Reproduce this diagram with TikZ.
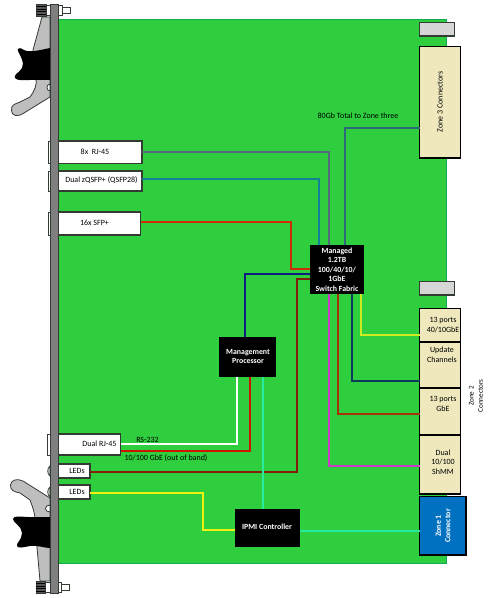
\documentclass[tikz,border=0pt]{standalone}
\usepackage{fontspec}
\setmainfont{Carlito}
\definecolor{boardgreen}{RGB}{46,206,62}
\definecolor{boardedge}{RGB}{16,170,80}
\definecolor{cream}{RGB}{238,232,188}
\definecolor{zoneblue}{RGB}{0,112,192}
\definecolor{lightgrey}{RGB}{214,214,214}
\definecolor{ejector}{RGB}{190,190,190}
\definecolor{panelgrey}{RGB}{127,127,127}
\definecolor{edgegrey}{RGB}{50,60,50}
\definecolor{slate}{RGB}{85,105,125}
\definecolor{tealw}{RGB}{20,130,150}
\definecolor{slateteal}{RGB}{45,105,120}
\definecolor{redw}{RGB}{205,45,5}
\definecolor{navyw}{RGB}{10,30,130}
\definecolor{darkred}{RGB}{130,30,10}
\definecolor{brightred}{RGB}{205,20,0}
\definecolor{mint}{RGB}{40,235,160}
\definecolor{yellowg}{RGB}{205,235,30}
\definecolor{yelloww}{RGB}{240,240,20}
\definecolor{navyteal}{RGB}{10,60,90}
\definecolor{brownw}{RGB}{165,50,10}
\definecolor{magentaw}{RGB}{205,60,200}
\tikzset{
  x=0.75pt,y=-0.75pt,
  anybox/.style={rectangle,inner sep=0pt,outer sep=0pt,font=\fontsize{6}{7.2}\selectfont,align=center},
  whitebox/.style={anybox,fill=white,draw=edgegrey,line width=0.8pt},
  blackbox/.style={anybox,fill=black,text=white},
  creambox/.style={anybox,fill=cream,draw=black,line width=0.8pt},
  greybox/.style={anybox,fill=lightgrey,draw=edgegrey,line width=0.9pt},
  bluebox/.style={anybox,fill=zoneblue,draw=black,line width=0.8pt},
  txt/.style={inner sep=0pt,outer sep=0pt,font=\fontsize{6}{7.2}\selectfont,align=center},
  boldtxt/.style={txt,text=white,font=\fontsize{5.9}{7.1}\selectfont\bfseries},
  wire/.style={line width=0.9pt},
  tab/.style={draw=edgegrey,fill=white,line width=0.5pt},
  hw/.style={draw=edgegrey,line width=0.6pt}
}
\newcommand{\pbox}[7]{\node[#1,minimum width={(#5-#3)*0.75pt},minimum height={(#6-#4)*0.75pt}] (#2) at ({(#3+#5)/2},{(#4+#6)/2}) {#7};}
\begin{document}
\begin{tikzpicture}
\useasboundingbox (0,0) rectangle (501,598);
% board
\pbox{anybox,fill=boardgreen,draw=boardedge,line width=0.5pt}{board}{50}{19}{446.5}{563}{}
% ejectors
\draw[hw,fill=ejector] (42,17) -- (50,17) -- (50,97) -- (24,113) .. controls (18,117) and (12,117) .. (11.5,110) .. controls (11,105) and (15,104) .. (20,102) -- (30,97) .. controls (35,90) and (37,85) .. (36,78) -- (33,50) -- cycle;
\draw[hw,fill=white] (50,84) .. controls (46,84) and (46,91) .. (50,91) -- cycle;
\fill[black] (50,48) .. controls (40,50) and (30,53) .. (24,50) .. controls (20,47) and (17,48) .. (18,51) .. controls (20,56) and (25,62) .. (22,68) .. controls (19,73) and (13,75) .. (15,78) .. controls (17,81) and (24,80) .. (30,80) -- (50,80) -- cycle;
\draw[hw,fill=ejector] (40,581) -- (50,581) -- (50,498) -- (23,481) .. controls (17,478) and (11,480) .. (10.5,485) .. controls (10,490) and (14,492) .. (20,493) -- (30,500) .. controls (33,508) and (36,516) .. (35,525) -- cycle;
\draw[hw,fill=white] (50,505) .. controls (44,505) and (44,512) .. (50,512) -- cycle;
\fill[black] (50,517) -- (28,517) .. controls (22,517) and (13,515) .. (13,519) .. controls (13,523) and (22,526) .. (22,533) .. controls (22,540) and (16,543) .. (17,546) .. controls (18,549) and (24,547) .. (30,546) .. controls (38,545) and (44,548) .. (50,548) -- cycle;
% knobs and screws
\draw[hw,fill=gray!70!black] (36.5,4.5) rectangle (46,16);
\foreach \yy in {6.5,9,11.5,14} \draw[black,line width=0.4pt] (36.5,\yy) -- (46,\yy);
\draw[hw,fill=white] (46,5) rectangle (50,15);
\draw[hw,fill=white] (58.5,5) rectangle (62,15);
\draw[hw,fill=white] (62,7) rectangle (70,13);
\draw[hw,fill=gray!70!black] (36,581) rectangle (45,593);
\foreach \yy in {583.5,586,588.5,591} \draw[black,line width=0.4pt] (36,\yy) -- (45,\yy);
\draw[hw,fill=white] (45,582) rectangle (50,592);
\draw[hw,fill=white] (58.5,582) rectangle (61,592);
\draw[hw,fill=white] (61,584) rectangle (69,590);
% connector tabs
\draw[tab] (48,141) rectangle (51,163);
\draw[tab] (48,171) rectangle (51,191);
\draw[tab] (48,212) rectangle (51,235);
\draw[tab] (47,434) rectangle (51,455);
\draw[hw,fill=ejector!60!white] (50,466) .. controls (47,468) and (47,474) .. (50,476) -- cycle;
\draw[hw,fill=ejector!60!white] (50,487) .. controls (47,489) and (47,495) .. (50,497) -- cycle;
% front-panel blocks
\pbox{whitebox}{rja}{56}{141}{142}{163.5}{}
\pbox{whitebox}{qsfp}{56}{171}{142}{191}{}
\pbox{whitebox}{sfp}{56}{212}{140.5}{235}{}
\pbox{whitebox}{rjb}{56}{434}{120.5}{455}{}
\pbox{whitebox}{leda}{56}{464}{90}{478}{}
\pbox{whitebox}{ledb}{56}{485}{90}{499}{}
% front panel
\pbox{anybox,fill=panelgrey,draw=edgegrey,line width=0.6pt}{panel}{50}{4}{58.5}{593}{}
% processors
\pbox{blackbox}{sw}{310}{245}{364}{294}{}
\pbox{blackbox}{mgmt}{219}{337}{276}{377}{}
\pbox{blackbox}{ipmi}{235}{509}{300}{547}{}
% zones
\pbox{greybox}{gtop}{419.5}{22.5}{454.5}{36}{}
\pbox{greybox}{gmid}{419.5}{281.5}{454.5}{295}{}
\pbox{creambox}{zthree}{419.5}{46.5}{460.5}{158}{}
\pbox{creambox}{pa}{419.5}{308.5}{460.5}{342}{}
\pbox{creambox}{pb}{419.5}{342}{460.5}{388}{}
\pbox{creambox}{pc}{419.5}{388}{460.5}{435}{}
\pbox{creambox}{pd}{419.5}{435}{460.5}{494}{}
\pbox{bluebox}{zone}{419.5}{496.5}{466}{555}{}
% connectors
\draw[wire,slate] ([shift={(0,-0.25)}]rja.east) -| ([shift={(-8,0)}]sw.north);
\draw[wire,tealw] ([shift={(0,-2)}]qsfp.east) -| ([shift={(-18,0)}]sw.north);
\draw[wire,slateteal] ([shift={(0,-30)}]zthree.south west) -| ([shift={(8,0)}]sw.north);
\draw[wire,redw] ([shift={(0,-1.5)}]sfp.east) -- (291,222) -- (291,269) -- ([shift={(0,-0.5)}]sw.west);
\draw[wire,navyw] ([shift={(-2.5,0)}]mgmt.north) |- ([shift={(0,4.5)}]sw.west);
\draw[wire,darkred] ([shift={(0,1)}]leda.east) -- (297,472) -- (297,279) -- ([shift={(0,9.5)}]sw.west);
\draw[wire,white] ([shift={(-10.5,0)}]mgmt.south) |- ([shift={(0,-0.5)}]rjb.east);
\draw[wire,brightred] ([shift={(2.5,0)}]mgmt.south) |- ([shift={(0,6.5)}]rjb.east);
\draw[wire,mint] ([shift={(15.5,0)}]mgmt.south) -- ([shift={(-4.5,0)}]ipmi.north);
\draw[wire,mint] ([shift={(0,3)}]ipmi.east) -- ([shift={(0,5.25)}]zone.west);
\draw[wire,yelloww] ([shift={(0,1)}]ledb.east) -- (203,493) -- (203,530) -- ([shift={(0,2)}]ipmi.west);
\draw[wire,yellowg] ([shift={(24,0)}]sw.south) |- ([shift={(0,9.75)}]pa.west);
\draw[wire,navyteal] ([shift={(15,0)}]sw.south) |- ([shift={(0,16)}]pb.west);
\draw[wire,brownw] ([shift={(1,0)}]sw.south) |- ([shift={(0,2.5)}]pc.west);
\draw[wire,magentaw] ([shift={(-8,0)}]sw.south) |- ([shift={(0,1.5)}]pd.west);
% texts
\node[txt] (t1) at (95,152) {8x\ \ RJ-45};
\node[txt] (t2) at (101.5,180.5) {Dual zQSFP+ (QSFP28)};
\node[txt] (t3) at (94.5,223) {16x SFP+};
\node[txt] (t4) at (99.5,444) {Dual RJ-45};
\node[txt] (t5) at (77,471) {LEDs};
\node[txt] (t6) at (77,492) {LEDs};
\node[txt] (t7) at (147.5,440) {RS-232};
\node[txt] (t8) at (166,458) {10/100 GbE (out of band)};
\node[txt] (t9) at (358,116) {80Gb Total to Zone three};
\node[boldtxt] (t10) at (337,269.5) {Managed\\1.2TB\\100/40/10/\\1GbE\\Switch Fabric};
\node[boldtxt] (t11) at (248,356.5) {Management\\Processor};
\node[boldtxt] (t12) at (267,527) {IPMI Controller};
\node[txt,rotate=90] (t13) at (440,102) {Zone 3 Connectors};
\node[txt] (t14) at (443,325) {13 ports\\40/10GbE};
\node[txt] (t15) at (442,355) {Update\\Channels};
\node[txt] (t16) at (443,404) {13 ports\\GbE};
\node[txt] (t17) at (443,462) {Dual\\10/100\\ShMM};
\node[boldtxt,rotate=90] (t18) at (443,526) {Zone 1\\Connector};
\node[txt,rotate=90,font=\fontsize{5.4}{7}\selectfont] (t19) at (476,396) {Zone 2\\Connectors};
\end{tikzpicture}
\end{document}
